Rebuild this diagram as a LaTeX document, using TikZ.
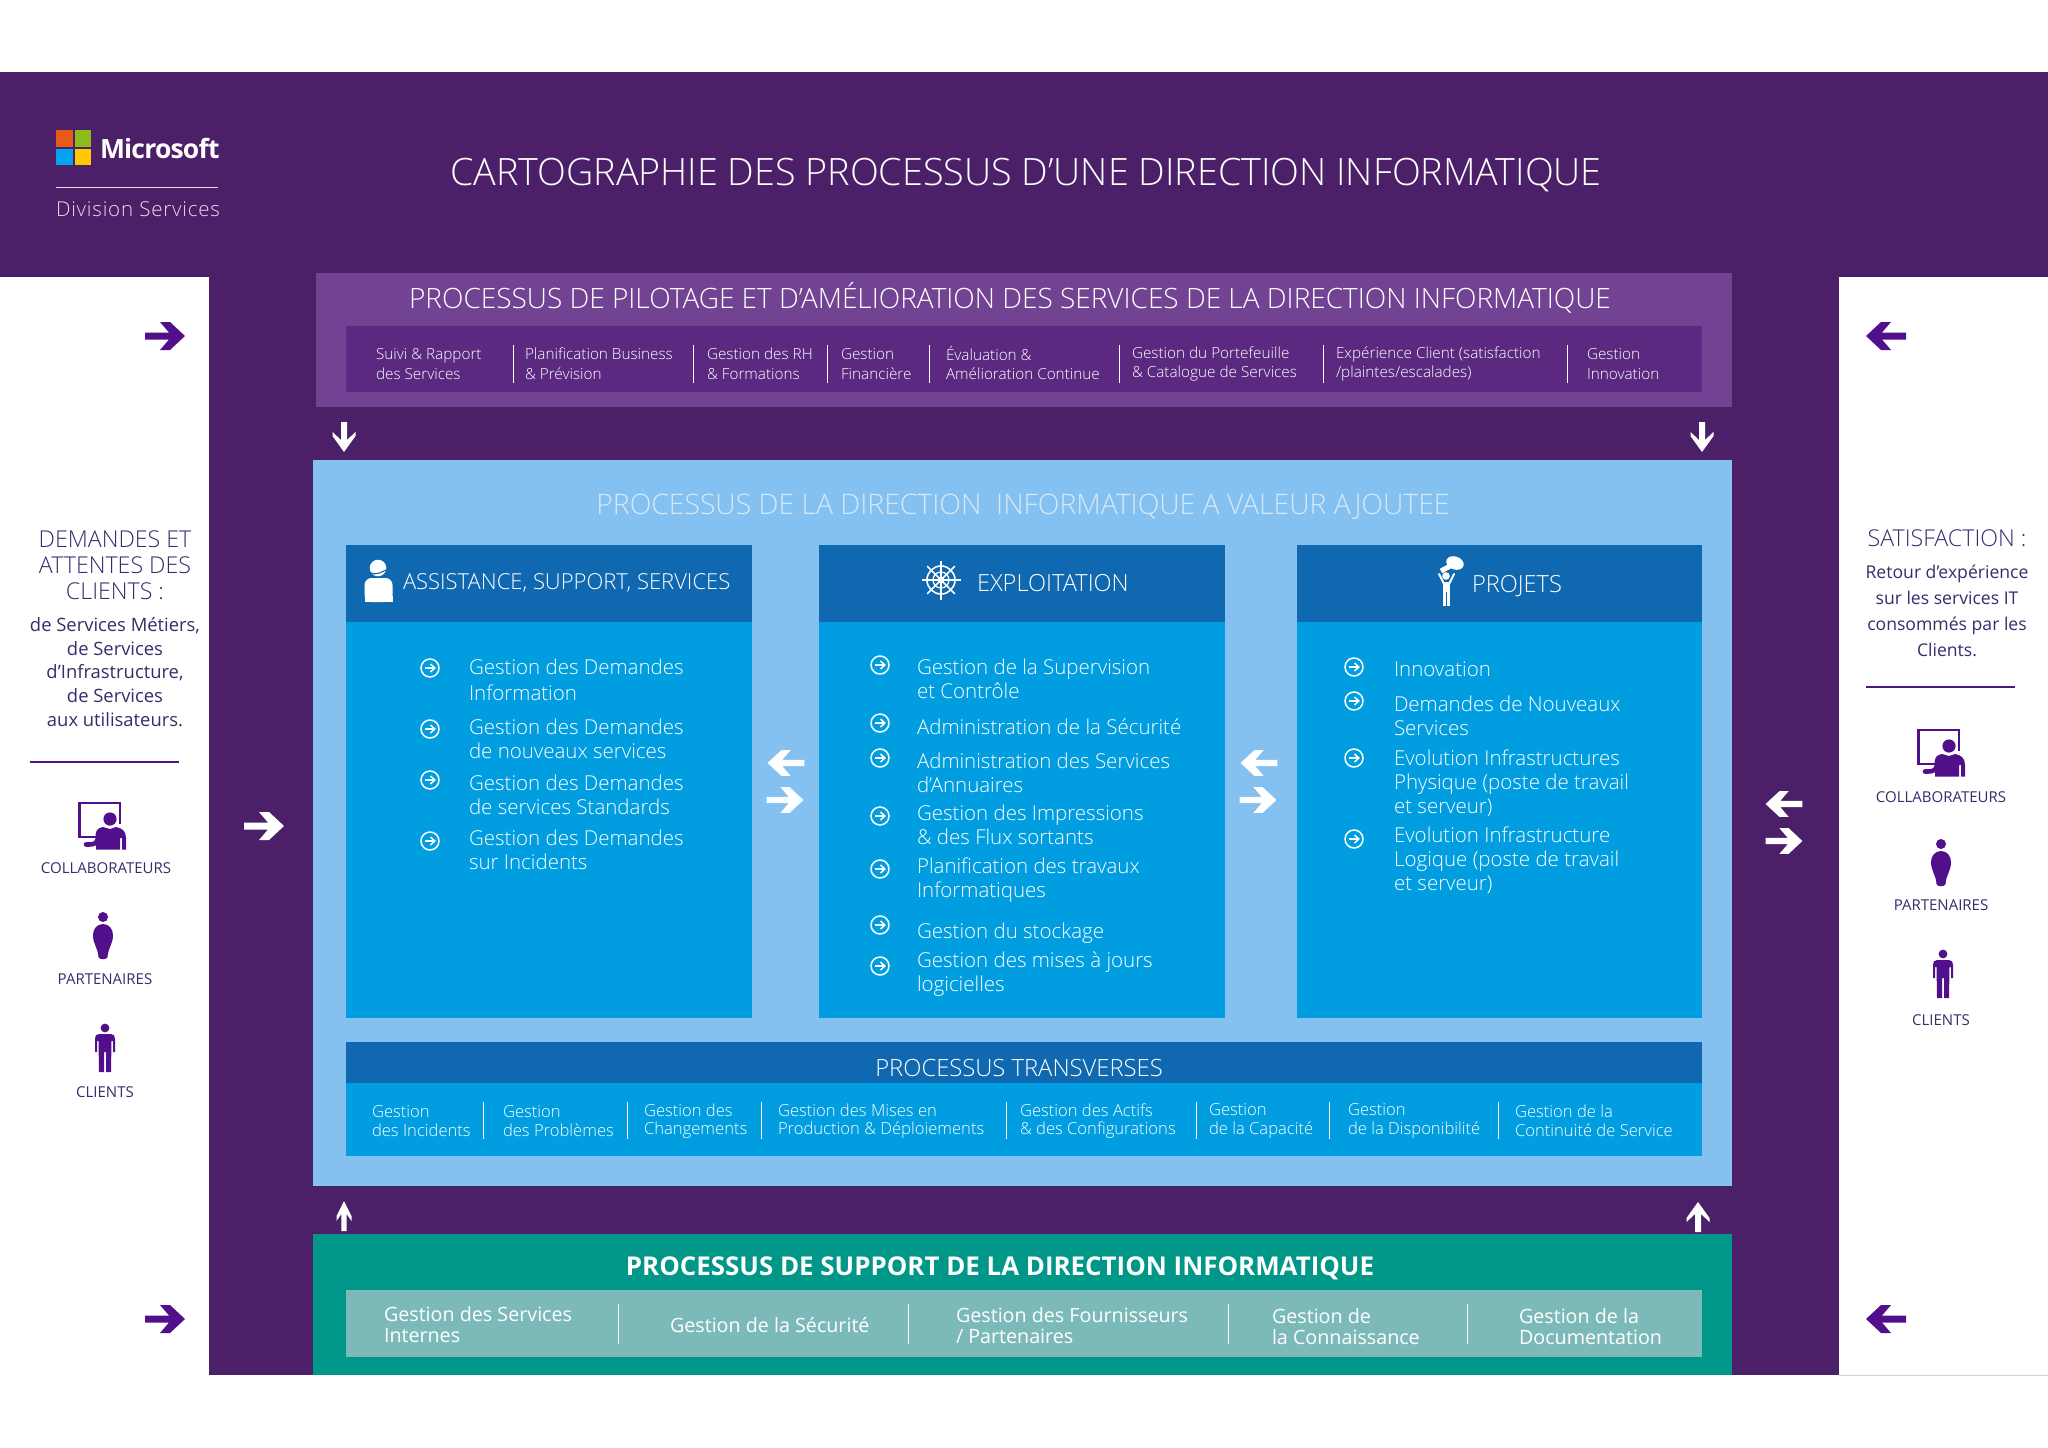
\documentclass[tikz,border=0pt]{standalone}
\usepackage{fontspec}
\setmainfont{Open Sans Light}[BoldFont={Open Sans Bold}]
\newfontfamily\regf{Open Sans}
\newcommand\fz[2]{\fontsize{#1}{#2}\selectfont}
\definecolor{purpbg}{HTML}{4B2068}
\definecolor{pilot}{HTML}{714392}
\definecolor{pilotin}{HTML}{5B2A80}
\definecolor{bluemain}{HTML}{85C1F0}
\definecolor{bluehead}{HTML}{0F68B0}
\definecolor{bluebody}{HTML}{009EE0}
\definecolor{teal1}{HTML}{009688}
\definecolor{teal2}{HTML}{7CBABA}
\definecolor{purptxt}{HTML}{3D2A6B}
\definecolor{purpicon}{HTML}{520F8C}
\definecolor{titlelt}{HTML}{D3E9FA}
\definecolor{msred}{HTML}{E8591A}
\definecolor{msgreen}{HTML}{8CBB1A}
\definecolor{msblue}{HTML}{00A4EF}
\definecolor{msyellow}{HTML}{FFC800}
\tikzset{
 x=1pt,y=-1pt,
 txt/.style={inner sep=0pt,outer sep=0pt,text=white,align=left,anchor=west},
 ctr/.style={inner sep=0pt,outer sep=0pt,text=white,align=center,anchor=center},
 item/.style={txt,font=\fz{20.5}{24}},
 pilotitem/.style={txt,font=\fz{15.3}{19.6}},
 transitem/.style={txt,font=\fz{16.6}{18.5}},
 suppitem/.style={txt,font=\regf\fz{19.7}{21}},
 lefttxt/.style={ctr,text=purptxt,font=\fz{23.2}{26}},
 smalltxt/.style={ctr,text=purptxt,font=\regf\fz{18.4}{23.6}},
 smalltxtr/.style={ctr,text=purptxt,font=\regf\fz{17.6}{26}},
 iconlabel/.style={ctr,text=purptxt,font=\regf\fz{15}{17}},
 sep/.style={draw=white,line width=0.9pt},
 pics/fatarrow/.style={code={\fill (-20,-3.5) -- (4,-3.5) -- (-5,-14) -- (5,-14) -- (20,0) -- (5,14) -- (-5,14) -- (4,3.5) -- (-20,3.5) -- cycle;}},
 pics/thinarrow/.style={code={\fill (-15,-2.6) -- (2,-2.6) -- (-5,-7.5) -- (0,-7.5) -- (15,0) -- (0,7.5) -- (-5,7.5) -- (2,2.6) -- (-15,2.6) -- cycle;}},
 pics/midarrow/.style={code={\fill (-15,-3) -- (3,-3) -- (-5,-11.5) -- (-1,-11.5) -- (15,0) -- (-1,11.5) -- (-5,11.5) -- (3,3) -- (-15,3) -- cycle;}},
 pics/bul/.style={code={\draw[white,line width=1.5pt] (0,0) circle (9);
   \draw[white,line width=1.5pt] (-5,0) -- (4.5,0); \draw[white,line width=1.5pt] (0.5,-4) -- (4.8,0) -- (0.5,4);}},
 pics/collab/.style={code={
   \draw[purpicon,line width=2.4pt] (18,0) -- (18,-23) -- (-22.5,-23) -- (-22.5,11) -- (-6,11);
   \fill[white] (-9,-2) rectangle (25,3);
   \fill[purpicon] (8,-7) circle (6.6);
   \fill[purpicon] (-6,23.5) -- (-6,8) .. controls (-6,3) and (-3,2) .. (1,1) -- (8,3) -- (14,1) .. controls (20,2) and (24,5) .. (24,12) -- (24,23.5) -- (20,23.5) -- (20,12) -- (18,12) -- (18,23.5) -- cycle;
   \draw[purpicon,line width=4.6pt,line cap=round] (-4,8) .. controls (-4,18) and (-6,18.5) .. (-16,18.5);
 }},
 pics/partner/.style={code={
   \fill[purpicon] (0,-19) circle (5);
   \fill[purpicon] (0,-12) .. controls (6,-12) and (10,-7) .. (10,-1) .. controls (10,8) and (5,12) .. (4.5,21) .. controls (4,24) and (-4,24) .. (-4.5,21) .. controls (-5,12) and (-10,8) .. (-10,-1) .. controls (-10,-7) and (-6,-12) .. (0,-12) -- cycle;
 }},
 pics/client/.style={code={
   \fill[purpicon] (0,-20) circle (4.4);
   \fill[purpicon] (-6,-14) -- (6,-14) .. controls (9,-14) and (10,-12) .. (10,-9) -- (10,4) -- (8,4) -- (8,-7) -- (6.5,-7) -- (6,24) -- (1,24) -- (1,4) -- (-1,4) -- (-1,24) -- (-6,24) -- (-6.5,-7) -- (-8,-7) -- (-8,4) -- (-10,4) -- (-10,-9) .. controls (-10,-12) and (-9,-14) .. (-6,-14) -- cycle;
 }},
}
\begin{document}
\begin{tikzpicture}
\useasboundingbox (0,0) rectangle (2048,1448);
\fill[white] (0,0) rectangle (2048,1448);
\fill[purpbg] (0,72) rectangle (2048,1375);
\fill[white] (0,277) rectangle (209,1375);
\fill[white] (1839,277) rectangle (2048,1375);
\draw[gray!35,line width=0.8pt] (1839,1375.4) -- (2048,1375.4);
% logo
\fill[msred] (56,130) rectangle (72.5,147);
\fill[msgreen] (74.5,130) rectangle (91,147);
\fill[msblue] (56,148.5) rectangle (72.5,165);
\fill[msyellow] (74.5,148.5) rectangle (91,165);
\node[txt,font=\regf\bfseries\fz{26.5}{30}] (ms) at (100,148) {\addfontfeature{LetterSpace=-3}Microsoft};
\draw[white!85!purple,line width=1pt] (56,187) -- (218,187);
\node[txt,text=white!85!purple,font=\fz{20.5}{22}] (div) at (56,209) {\addfontfeature{LetterSpace=4}Division Services};
\node[ctr,font=\fz{37.7}{40}] (title) at (1026,175) {CARTOGRAPHIE DES PROCESSUS D’UNE DIRECTION INFORMATIQUE};
% pilot
\fill[pilot] (316,273) rectangle (1732,407);
\fill[pilotin] (346,326) rectangle (1702,392);
\node[ctr,font=\fz{28}{32}] (ptitle) at (1010,298) {PROCESSUS DE PILOTAGE ET D’AMÉLIORATION DES SERVICES DE LA DIRECTION INFORMATIQUE};
\node[pilotitem] (p1) at (376,364) {Suivi \& Rapport\\des Services};
\node[pilotitem] (p2) at (525,364) {Planification Business\\\& Prévision};
\node[pilotitem] (p3) at (707,364) {Gestion des RH\\\& Formations};
\node[pilotitem] (p4) at (841,364) {Gestion\\Financière};
\node[pilotitem] (p5) at (946,363) {Évaluation \&\\Amélioration Continue};
\node[pilotitem] (p6) at (1132,364) {Gestion du Portefeuille\\\& Catalogue de Services};
\node[pilotitem] (p7) at (1336,364) {Expérience Client (satisfaction\\/plaintes/escalades)};
\node[pilotitem] (p8) at (1587,364) {Gestion\\Innovation};
\foreach \x in {513,693,827,929,1119,1323,1567} \draw[sep] (\x,345) -- (\x,383);
% main blue
\fill[bluemain] (313,460) rectangle (1732,1186);
\node[ctr,text=titlelt,font=\fz{28.3}{30}] (btitle) at (1023,507) {PROCESSUS DE LA DIRECTION\ \ INFORMATIQUE A VALEUR AJOUTEE};
\foreach \xa/\xb in {346/752,819/1225,1297/1702} {
  \fill[bluebody] (\xa,622) rectangle (\xb,1018);
  \fill[bluehead] (\xa,545) rectangle (\xb,622);
}
\node[txt,font=\fz{22}{26}] (h1) at (403,583) {ASSISTANCE, SUPPORT, SERVICES};
\node[txt,font=\fz{23.6}{26}] (h2) at (977,583) {EXPLOITATION};
\node[txt,font=\fz{23.6}{26}] (h3) at (1472,586) {PROJETS};
% assistance icon
\fill[white] (378,568) circle (8.3);
\fill[white,rounded corners=7pt] (364.5,602) -- (364.5,578) -- (392.5,578) -- (392.5,602) -- cycle;
\fill[white] (364.5,596) rectangle (392.5,602);
\draw[bluehead,line width=1.1pt] (371,573) .. controls (376,575) and (380,573) .. (386,570);
% wheel icon
\draw[white,line width=1.6pt] (941,580) circle (14);
\draw[white,line width=1.3pt] (941,580) circle (8);
\fill[white] (941,580) circle (3.5);
\foreach \a in {0,45,...,315} \draw[white,line width=1.5pt] (941,580) -- ++(\a:19.5);
% key man icon
\fill[white,rotate around={-20:(1455,563)}] (1455,563) ellipse (9 and 6.5);
\draw[white,line width=5pt] (1452,565) -- (1441,571);
\fill[white] (1446,576) circle (3.8);
\draw[white,line width=2pt,line cap=round] (1439,574) -- (1444,584) -- (1449,584) -- (1454,574);
\fill[white] (1443,582) rectangle (1450,606);
\draw[bluehead,line width=0.7pt] (1446.5,592) -- (1446.5,606);
% column 1
\node[item,font=\fz{20.5}{26}] (a1) at (469,680) {Gestion des Demandes\\Information};
\node[item] (a2) at (469,739) {Gestion des Demandes\\de nouveaux services};
\node[item] (a3) at (469,795) {Gestion des Demandes\\de services Standards};
\node[item] (a4) at (469,850) {Gestion des Demandes\\sur Incidents};
\foreach \y in {668,729,780,841} \pic at (430,\y) {bul};
% column 2
\node[item] (b1) at (917,679) {Gestion de la Supervision\\et Contrôle};
\node[item] (b2) at (917,727) {Administration de la Sécurité};
\node[item] (b3) at (917,773) {Administration des Services\\d’Annuaires};
\node[item] (b4) at (917,825) {Gestion des Impressions\\\& des Flux sortants};
\node[item] (b5) at (917,880) {Planification des travaux\\Informatiques};
\node[item] (b6) at (917,933) {Gestion du stockage};
\node[item] (b7) at (917,974) {Gestion des mises à jours\\logicielles};
\foreach \y in {665,723,758,816,869,925,966} \pic at (880,\y) {bul};
% column 3
\node[item] (c1) at (1394,669) {Innovation};
\node[item] (c2) at (1394,716) {Demandes de Nouveaux\\Services};
\node[item] (c3) at (1394,783) {Evolution Infrastructures\\Physique (poste de travail\\et serveur)};
\node[item] (c4) at (1394,860) {Evolution Infrastructure\\Logique (poste de travail\\et serveur)};
\foreach \y in {667,701,758,839} \pic at (1354,\y) {bul};
% transverse
\fill[bluebody] (346,1083) rectangle (1702,1156);
\fill[bluehead] (346,1042) rectangle (1702,1083);
\node[ctr,font=\fz{23.8}{25}] (ttitle) at (1019,1068) {PROCESSUS TRANSVERSES};
\node[transitem] (t1) at (372,1121) {Gestion\\des Incidents};
\node[transitem] (t2) at (503,1121) {Gestion\\des Problèmes};
\node[transitem] (t3) at (644,1121) {Gestion des\\Changements};
\node[transitem] (t4) at (778,1121) {Gestion des Mises en\\Production \& Déploiements};
\node[transitem] (t5) at (1020,1121) {Gestion des Actifs\\\& des Configurations};
\node[transitem] (t6) at (1209,1121) {Gestion\\de la Capacité};
\node[transitem] (t7) at (1348,1121) {Gestion\\de la Disponibilité};
\node[transitem] (t8) at (1515,1121) {Gestion de la\\Continuité de Service};
\foreach \x in {483,627,761,1006,1196,1329,1498} \draw[sep] (\x,1102) -- (\x,1139);
% support
\fill[teal1] (313,1234) rectangle (1732,1375);
\fill[teal2] (346,1290) rectangle (1702,1357);
\node[ctr,font=\bfseries\fz{25.9}{28}] (stitle) at (1000,1268) {PROCESSUS DE SUPPORT DE LA DIRECTION INFORMATIQUE};
\node[suppitem] (s1) at (384,1325) {Gestion des Services\\Internes};
\node[suppitem] (s2) at (670,1325) {Gestion de la Sécurité};
\node[suppitem] (s3) at (956,1326) {Gestion des Fournisseurs\\/ Partenaires};
\node[suppitem] (s4) at (1272,1327) {Gestion de\\la Connaissance};
\node[suppitem] (s5) at (1519,1327) {Gestion de la\\Documentation};
\foreach \x in {618,908,1228,1467} \draw[sep] (\x,1304) -- (\x,1344);
% left panel
\node[lefttxt] (l1) at (115,565) {DEMANDES ET\\ATTENTES DES\\CLIENTS :};
\node[smalltxt] (l2) at (115,672) {de Services Métiers,\\de Services\\d’Infrastructure,\\de Services\\aux utilisateurs.};
\draw[purpicon!80!purptxt,line width=1.7pt] (30,762) -- (179,762);
\pic at (102,826) {collab};
\node[iconlabel] (l3) at (106,868) {COLLABORATEURS};
\pic at (103,936) {partner};
\node[iconlabel] (l4) at (105,979) {PARTENAIRES};
\pic at (105,1048) {client};
\node[iconlabel] (l5) at (105,1092) {CLIENTS};
% right panel
\node[lefttxt] (r1) at (1947,538) {SATISFACTION :};
\node[smalltxtr] (r2) at (1947,611) {Retour d’expérience\\sur les services IT\\consommés par les\\Clients.};
\draw[purpicon!80!purptxt,line width=1.7pt] (1866,687) -- (2015,687);
\pic at (1941,753) {collab};
\node[iconlabel] (r3) at (1941,797) {COLLABORATEURS};
\pic at (1941,863) {partner};
\node[iconlabel] (r4) at (1941,905) {PARTENAIRES};
\pic at (1943,974) {client};
\node[iconlabel] (r5) at (1941,1020) {CLIENTS};
% arrows
\pic[color=purpicon] at (165,336) {fatarrow};
\pic[color=purpicon] at (165,1319) {fatarrow};
\pic[color=purpicon,rotate=180] at (1886,336) {fatarrow};
\pic[color=purpicon,rotate=180] at (1886,1319) {fatarrow};
\pic[color=white] at (264,826) {fatarrow};
\pic[color=white,rotate=180,scale=.92] at (786,763) {fatarrow};
\pic[color=white,scale=.92] at (785,800) {fatarrow};
\pic[color=white,rotate=180,scale=.92] at (1259,763) {fatarrow};
\pic[color=white,scale=.92] at (1258,800) {fatarrow};
\pic[color=white,rotate=180,scale=.92] at (1784,804) {fatarrow};
\pic[color=white,scale=.92] at (1784,841) {fatarrow};
\pic[color=white,rotate=-90] at (344,437) {midarrow};
\pic[color=white,rotate=-90] at (1702,437) {midarrow};
\pic[color=white,rotate=90] at (344,1216) {thinarrow};
\pic[color=white,rotate=90] at (1698,1217) {midarrow};
\end{tikzpicture}
\end{document}
